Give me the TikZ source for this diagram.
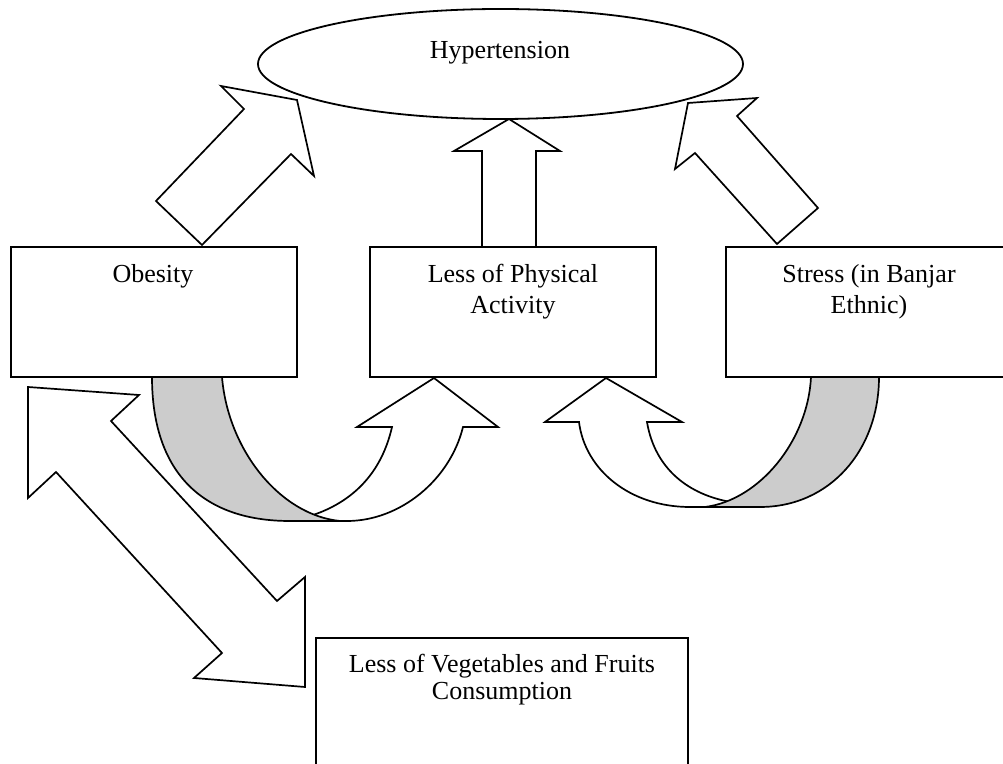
\documentclass[tikz,border=0pt]{standalone}
\usepackage{fontspec}
\setmainfont{Liberation Serif}
\usetikzlibrary{shapes.geometric}
\begin{document}
\begin{tikzpicture}[x=0.5pt,y=-0.5pt,
  line join=miter,
  box/.style={draw, rectangle, minimum width=143pt, minimum height=65pt, inner sep=0pt, line width=0.9pt},
  lbl/.style={anchor=base, inner sep=0pt, font=\fontsize{13pt}{15.5pt}\selectfont},
  blockarrow/.style={draw, fill=white, line width=0.85pt},
  backpart/.style={draw, fill=black!20, line width=0.85pt}]
\useasboundingbox (0,0) rectangle (1003,764);
\clip (0,0) rectangle (1003,764);

% ellipse
\node[draw, ellipse, minimum width=242.5pt, minimum height=55pt, inner sep=0pt, line width=0.9pt] (hyp) at (500.5,64) {};

% boxes
\node[box] (ob) at (154,312) {};
\node[box] (pa) at (513,312) {};
\node[box] (st) at (869,312) {};
\node[box, minimum width=186pt, minimum height=66pt] (ve) at (502,704) {};

% texts
\node[lbl] (tHyp) at (500,59) {Hypertension};
\node[lbl] (tOb) at (153,283) {Obesity};
\node[lbl] (tPa1) at (513,283) {Less of Physical};
\node[lbl] (tPa2) at (513,314) {Activity};
\node[lbl] (tSt1) at (869,283) {Stress (in Banjar};
\node[lbl] (tSt2) at (869,314) {Ethnic)};
\node[lbl] (tVe1) at (502,673) {Less of Vegetables and Fruits};
\node[lbl] (tVe2) at (502,700) {Consumption};

% block arrows to Hypertension
\draw[blockarrow] (202,245) -- (156,201) -- (244,109) -- (221,86) -- (297,100) -- (314,176) -- (291,154) -- cycle;
\draw[blockarrow] (482,247) -- (482,151) -- (454,151) -- (509,119) -- (560,151) -- (536,151) -- (536,247) -- cycle;
\draw[blockarrow] (777,244) -- (818,208) -- (737,116) -- (757,98) -- (688,103) -- (675,169) -- (695,153) -- cycle;

% double arrow Obesity <-> Vegetables
\draw[blockarrow] (28,387) -- (139,395) -- (111,421) -- (277,601) -- (305,577) -- (305,687) -- (194,678) -- (222,653) -- (56,472) -- (28,498) -- cycle;

% curved arrow Obesity -> Physical activity
\draw[blockarrow] (290,521) -- (347,521) .. controls (400,521) and (450,480) .. (463,427) -- (498,427) -- (434,378) -- (357,427) -- (392,427) .. controls (380,480) and (345,505) .. (310,516) -- cycle;
\draw[backpart] (152,377) .. controls (152,470) and (200,521) .. (290,521) -- (340,521) .. controls (280,515) and (228,450) .. (222,377) -- cycle;

% curved arrow Stress -> Physical activity
\draw[blockarrow] (750,507) -- (690,507) .. controls (630,507) and (585,470) .. (579,422) -- (545,422) -- (606,378) -- (682,422) -- (647,422) .. controls (655,470) and (690,495) .. (731,502) -- cycle;
\draw[backpart] (879,377) .. controls (879,450) and (830,507) .. (760,507) -- (705,507) .. controls (760,500) and (808,440) .. (811,377) -- cycle;
\end{tikzpicture}
\end{document}
